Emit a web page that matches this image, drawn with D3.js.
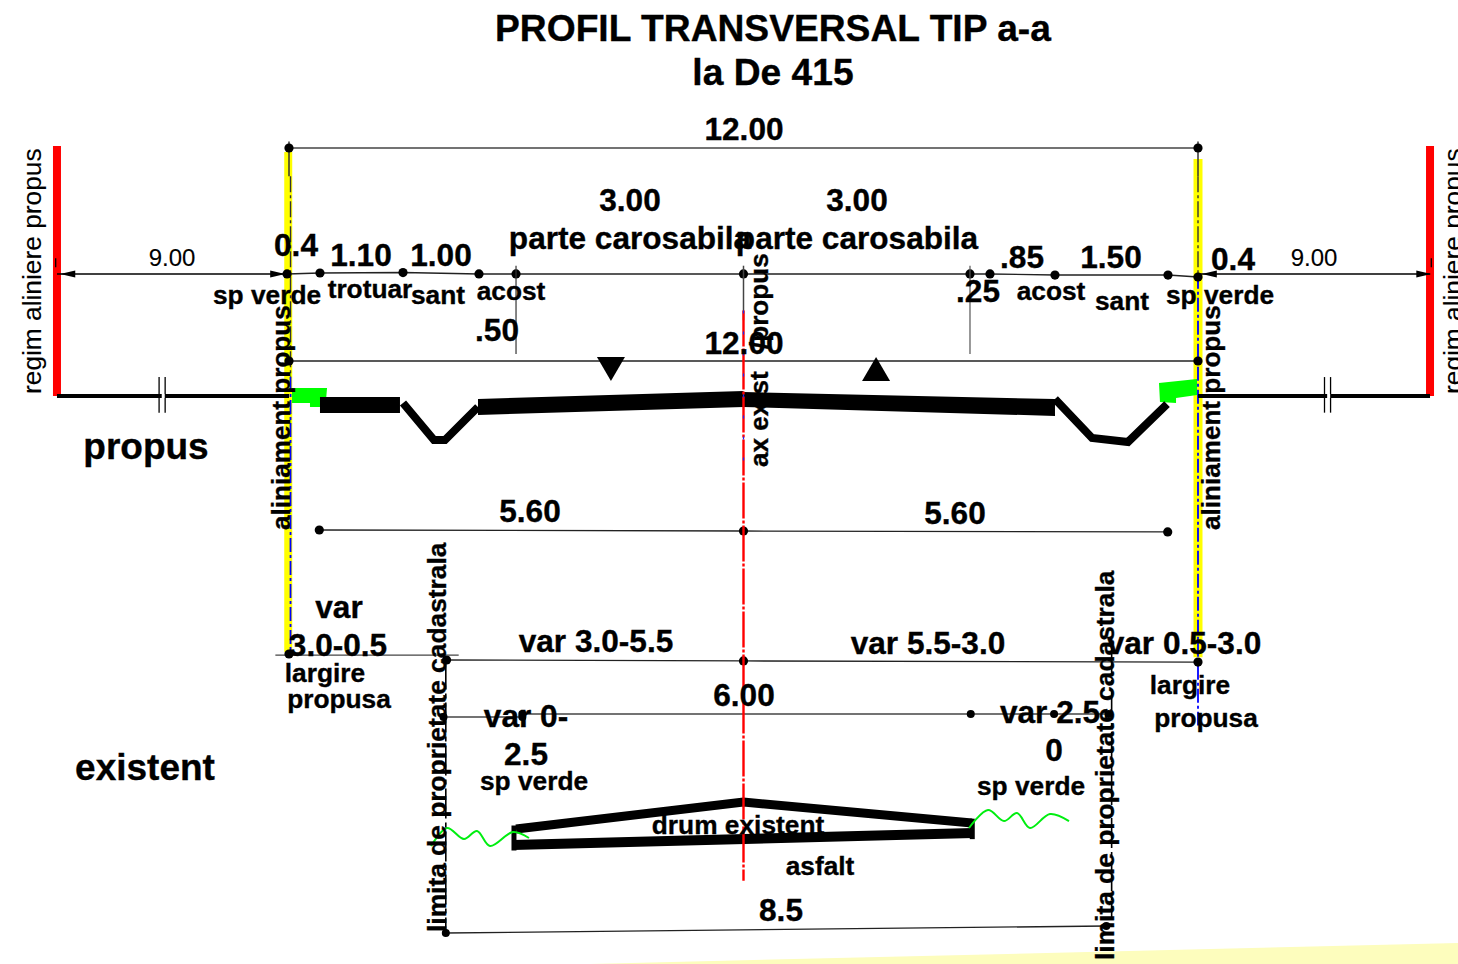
<!DOCTYPE html>
<html><head><meta charset="utf-8">
<script src="https://cdn.jsdelivr.net/npm/d3@7/dist/d3.min.js"></script>
<style>html,body{margin:0;padding:0;background:#fff}svg{display:block}text{font-family:"Liberation Sans",Arial,sans-serif;fill:#000}</style>
</head><body><svg id="c" width="1458" height="964"></svg>
<script>
// Values in metres: offset from the road axis, height relative to the proposed level
const dimTop=[[-6,3.274],[6,3.274]];
const dimChain=[[-6.026,1.611],[-5.591,1.624],[-4.495,1.63],[-3.492,1.611],[-3.003,1.611],[0,1.611],[2.99,1.611],[3.254,1.611],[4.112,1.597],[5.604,1.597],[6,1.571]];
const dimMid=[[-6,0.462],[6,0.462]];
const dimHalf=[[-5.6,-1.769],[0,-1.782],[5.6,-1.795]];
const dimVar=[[-3.92,-3.485],[0,-3.498],[6,-3.512]];
const dimExistLeft=[[-3.96,-4.238],[-2.92,-4.238]];
const dimExist=[[-2.92,-4.198],[3.0,-4.198],[4.1,-4.198],[4.82,-4.198]];
const dimBottom=[[-3.93,-7.089],[4.79,-6.997]];
const dimWiden=[[-6.18,-3.42],[-3.76,-3.42]];
const widenDot=[[-6,-3.406]];
const sidewalk=[[-5.591,-0.013],[-4.535,-0.013],[-4.535,-0.224],[-5.591,-0.224]];
const ditchLeft=[[-4.495,-0.092],[-4.086,-0.581],[-3.941,-0.581],[-3.505,-0.145]];
const carriageLeft=[[-3.505,-0.04],[0,0.066],[0,-0.145],[-3.505,-0.25]];
const carriageRight=[[0,0.053],[4.112,-0.04],[4.112,-0.264],[0,-0.145]];
const ditchRight=[[4.112,-0.04],[4.601,-0.554],[5.076,-0.607],[5.591,-0.106]];
const greenLeft=[[-5.96,0.106],[-5.498,0.106],[-5.51,-0.04],[-5.591,-0.04],[-5.591,-0.145],[-5.723,-0.145],[-5.723,-0.092],[-5.96,-0.092]];
const greenRight=[[5.485,0.172],[5.987,0.224],[5.987,0.013],[5.71,-0.026],[5.71,-0.092],[5.498,-0.079]];
const existTop=[[-3.003,-5.716],[0,-5.36],[3.016,-5.637]];
const existBottom=[[-3.043,-5.927],[3.03,-5.769]];
const wiggleLeft=[[-4.125,-5.941],[-3.914,-5.703],[-3.69,-5.848],[-3.518,-5.743],[-3.347,-5.941],[-3.043,-5.756],[-2.832,-5.835]];
const wiggleRight=[[2.977,-5.703],[3.228,-5.465],[3.439,-5.611],[3.611,-5.505],[3.782,-5.703],[4.046,-5.518],[4.297,-5.611]];
const groundLeft=[[-9.063,0],[-6,0]];
const groundRight=[[6,0],[9.063,0]];
const titleLines=["PROFIL TRANSVERSAL TIP a-a","la De 415"];
const widths=["12.00","3.00","3.00","0.4","1.10","1.00",".85","1.50",".25","0.4",".50","12.00","5.60","5.60","6.00","8.5"];
const offsets=["9.00","9.00"];
const variable=["var","3.0-0.5","var 3.0-5.5","var 5.5-3.0","var 0.5-3.0","var 0-","2.5","var 2.5","0"];
const zones=["parte carosabila","parte carosabila","sp verde","trotuar","sant","acost","acost","sant","sp verde","largire","propusa","largire","propusa","sp verde","sp verde","drum existent","asfalt"];

const x=d3.scaleLinear().domain([-6,6]).range([289,1198]);
const y=d3.scaleLinear().domain([0,1]).range([396,320.25]);
const svg=d3.select("#c");
const line=d3.line().x(d=>x(d[0])).y(d=>y(d[1]));
const smooth=d3.line().x(d=>x(d[0])).y(d=>y(d[1])).curve(d3.curveCatmullRom.alpha(0.5));
const poly=(p,f)=>svg.append("path").attr("d",line(p)+"Z").attr("fill",f);
const stroke=(p,c,w,extra={})=>{const s=svg.append("path").attr("d",line(p)).attr("fill","none").attr("stroke",c).attr("stroke-width",w);for(const k in extra)s.attr(k,extra[k]);return s;};
const dots=(p,r=4.6)=>svg.selectAll(null).data(p).enter().append("circle").attr("cx",d=>x(d[0])).attr("cy",d=>y(d[1])).attr("r",r).attr("fill","#000");

// paper tint at the lower edge
svg.append("path").attr("d",d3.line()([[590,964],[1458,943],[1458,964]])+"Z").attr("fill","#fdfdbd");

// alignment bars
const bar=(mx,hTop,hBot,c,w)=>stroke([[mx,hTop],[mx,hBot]],c,w);
bar(-9.063,3.30,0,"#ff0000",8); bar(9.063,3.30,0,"#ff0000",8);
bar(-6.01,3.22,-3.38,"#ffff00",8); bar(6,3.13,-3.45,"#ffff00",9);
bar(-6,3.36,2.9,"#333",1.5); bar(6,3.36,2.9,"#333",1.5);
stroke([[-5.98,2.9],[-5.98,0.25]],"#333",1.4,{"stroke-dasharray":"16 3 3 3"});
stroke([[6,2.9],[6,1.5]],"#333",1.4,{"stroke-dasharray":"16 3 3 3"});
stroke([[-5.98,0.25],[-5.98,-3.4]],"#00f",1.8,{"stroke-dasharray":"14 3 3 3"});
stroke([[6,1.6],[6,-4.35]],"#00f",1.8,{"stroke-dasharray":"14 3 3 3"});

// profile
poly(greenLeft,"#00ff00"); poly(greenRight,"#00ff00");
stroke(groundLeft,"#000",4); stroke(groundRight,"#000",4);
poly(sidewalk,"#000");
stroke(ditchLeft,"#000",8);
poly(carriageLeft,"#000"); poly(carriageRight,"#000");
stroke(ditchRight,"#000",8);
// break symbols on the ground line
for(const m of [-7.715,-7.635,7.67,7.75]) stroke([[m,0.25],[m,-0.22]],"#000",1.3);
svg.append("rect").attr("x",x(-7.68)).attr("y",y(0)-2).attr("width",3).attr("height",4).attr("fill","#fff");
svg.append("rect").attr("x",x(7.705)).attr("y",y(0)-2).attr("width",3).attr("height",4).attr("fill","#fff");

// existing road
stroke(existTop,"#000",9);
stroke(existBottom,"#000",10);
stroke([[-3.03,-5.67],[-3.03,-6.0]],"#000",5);
stroke([[3.02,-5.58],[3.02,-5.85]],"#000",5);
svg.append("path").attr("d",smooth(wiggleLeft)).attr("fill","none").attr("stroke","#00ee10").attr("stroke-width",2);
svg.append("path").attr("d",smooth(wiggleRight)).attr("fill","none").attr("stroke","#00ee10").attr("stroke-width",2);

// dimension lines
const thin="#222";
stroke(dimTop,"#444",1.5); dots(dimTop);
stroke(dimChain,thin,1.4); dots(dimChain);
stroke(dimMid,thin,1.3); dots(dimMid);
stroke(dimHalf.slice(0,2),thin,1.3); stroke(dimHalf.slice(1),thin,1.3); dots(dimHalf);
stroke(dimVar,thin,1.3); dots(dimVar);
stroke(dimWiden,"#444",1.3); dots(widenDot);
stroke(dimExistLeft,"#444",1.5); stroke(dimExist,"#444",1.5); dots(dimExistLeft,4); dots(dimExist,4);
stroke(dimBottom,thin,1.3); dots(dimBottom,4);
stroke([[-9.063,1.611],[-6.026,1.611]],"#000",1.6);
stroke([[6,1.611],[9.063,1.611]],"#000",1.6);
const arrow=(tip,dir)=>{const tx=x(tip),ty=y(1.611);svg.append("path").attr("d",d3.line()([[tx,ty],[tx+dir*15,ty-3.5],[tx+dir*15,ty+3.5]])+"Z").attr("fill","#000");};
arrow(-9.02,1);arrow(-6.05,-1);arrow(6.05,1);arrow(9.08,-1);
stroke([[-9.08,1.82],[-9.08,1.70]],"#000",1.3); stroke([[9.08,1.82],[9.08,1.70]],"#000",1.3);
// extension lines
stroke([[-3.003,1.72],[-3.003,0.555]],"#333",1.2);
stroke([[2.99,1.72],[2.99,0.555]],"#555",1.2);
stroke([[0,1.72],[0,1.0]],"#444",1.5);
// property limit centre lines
stroke([[-3.93,-3.48],[-3.93,-7.05]],"#000",1.6,{"stroke-dasharray":"30 4 5 4"});
stroke([[4.86,-3.3],[4.86,-6.9]],"#000",1.6,{"stroke-dasharray":"30 4 5 4"});
// level triangles
const tri=(m,dir)=>{const cx=x(m),base=dir>0?357:381,tip=dir>0?381:357;svg.append("path").attr("d",d3.line()([[cx-14,base],[cx+14,base],[cx,tip]])+"Z").attr("fill","#000");};
tri(-1.75,1);tri(1.75,-1);

// road axis
stroke([[0,1.13],[0,-6.4]],"#ff0000",2.4,{"stroke-dasharray":"36 2 3 2"});
stroke([[0,1.13],[0,-1]],"#2222ee",1.2,{"stroke-dasharray":"3 18"});

// text
const t=(s,cx,by,size,o={})=>{const e=svg.append("text").text(s).attr("font-size",size).attr("font-weight",o.w||"bold").attr("text-anchor",o.a||"middle").attr("stroke","#000").attr("stroke-width",o.w?0.1:0.35);
 if(o.r) e.attr("transform",`translate(${cx},${by}) rotate(-90)`); else e.attr("x",cx).attr("y",by); return e;};
t(titleLines[0],773,41,37.2); t(titleLines[1],773,85,37.2);
const big=31.6, mid=26.3;
[[744,140],[630,211],[857,211],[296,256],[361,266],[441,266],[1022,268],[1111,268],[978,302],[1233,270],[497,341],[744,354],[530,522],[955,524],[744,706],[781,921]]
 .forEach((p,i)=>t(widths[i],p[0],p[1],big));
t(offsets[0],172,266,24,{w:"normal"}); t(offsets[1],1314,266,24,{w:"normal"});
[[339,618],[338,656],[596,652],[928,654],[1184,654],[526,727],[526,765],[1050,723],[1054,761]]
 .forEach((p,i)=>t(variable[i],p[0],p[1],big));
[[630,249,big],[857,249,big],[267,304,mid],[370,298,mid],[438,304,mid],[511,300,mid],[1051,300,mid],[1122,310,mid],[1220,304,mid],[325,682,mid],[339,708,mid],[1190,694,mid],[1206,727,mid],[534,790,mid],[1031,795,mid],[738,834,mid],[820,875,mid]]
 .forEach((p,i)=>t(zones[i],p[0],p[1],p[2]));
t("propus",146,459,37); t("existent",145,780,37);
t("regim aliniere propus",41,394,26.3,{w:"normal",a:"start",r:1});
t("regim aliniere propus",1462,394,26.3,{w:"normal",a:"start",r:1});
t("aliniament propus",290,530,26.1,{a:"start",r:1});
t("aliniament propus",1220,530,26.1,{a:"start",r:1});
t("ax exist",768,467,26.1,{a:"start",r:1});
t("/propus",768,349,26.1,{a:"start",r:1});
t("limita de proprietate cadastrala",446,932,26.35,{a:"start",r:1});
t("limita de proprietate cadastrala",1114,960,26.35,{a:"start",r:1});
</script></body></html>
